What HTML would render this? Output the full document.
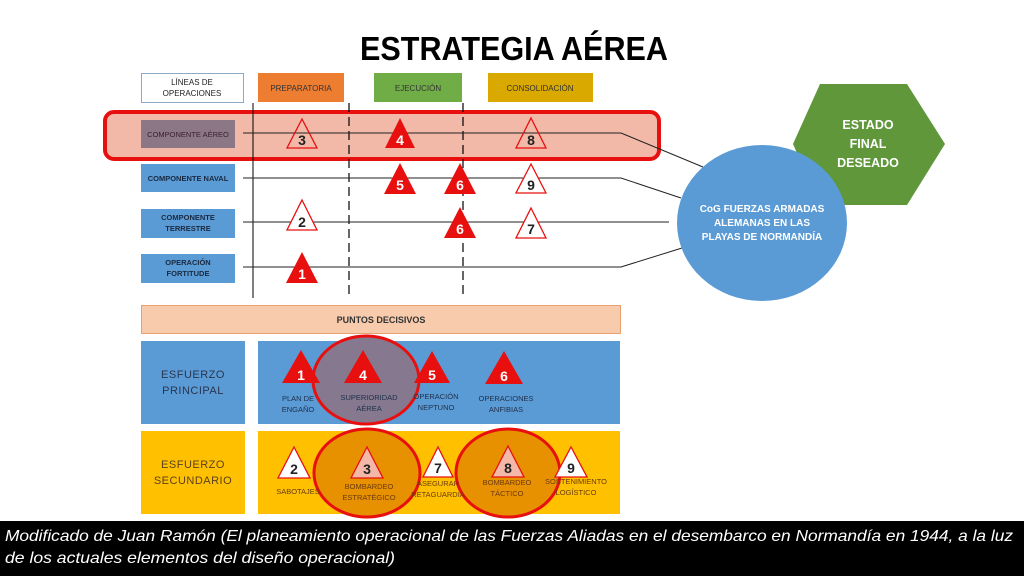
<!DOCTYPE html>
<html><head><meta charset="utf-8"><style>html,body{margin:0;padding:0;background:#fff;}svg{display:block}</style></head>
<body>
<svg width="1024" height="576" viewBox="0 0 1024 576" xmlns="http://www.w3.org/2000/svg" font-family="Liberation Sans, sans-serif">
<rect width="1024" height="576" fill="#fff"/>
<text x="360" y="60" font-size="33" font-weight="bold" textLength="308" lengthAdjust="spacingAndGlyphs">ESTRATEGIA AÉREA</text>

<!-- header boxes -->
<rect x="141.5" y="73.5" width="102" height="29" fill="#fff" stroke="#8fa9c8"/>
<text x="192" y="85" font-size="8" text-anchor="middle" fill="#222">LÍNEAS DE</text>
<text x="192" y="96" font-size="8" text-anchor="middle" fill="#222">OPERACIONES</text>
<rect x="258" y="73" width="86" height="29" fill="#ed7d31"/>
<text x="301" y="91" font-size="8" text-anchor="middle" fill="#333">PREPARATORIA</text>
<rect x="374" y="73" width="88" height="29" fill="#70ad47"/>
<text x="418" y="91" font-size="8" text-anchor="middle" fill="#333">EJECUCIÓN</text>
<rect x="488" y="73" width="105" height="29" fill="#d9a900"/>
<text x="540" y="91" font-size="8" text-anchor="middle" fill="#333">CONSOLIDACIÓN</text>

<!-- red band -->
<rect x="105" y="112" width="554" height="47" rx="9" fill="#f2b8a8" stroke="#e8100f" stroke-width="4"/>

<!-- vertical lines -->
<line x1="253" y1="103" x2="253" y2="298" stroke="#000" stroke-width="1"/>
<line x1="349" y1="103" x2="349" y2="298" stroke="#000" stroke-width="1.2" stroke-dasharray="9,5"/>
<line x1="463" y1="103" x2="463" y2="298" stroke="#000" stroke-width="1.2" stroke-dasharray="9,5"/>

<!-- row lines -->
<g stroke="#222" stroke-width="1" fill="none">
<polyline points="243,133 621,133 703,167"/>
<polyline points="243,178 621,178 681,198"/>
<polyline points="243,222 669,222"/>
<polyline points="243,267 621,267 682,248"/>
</g>

<!-- row boxes -->
<rect x="141" y="120" width="94" height="28" fill="#8b7785"/>
<text x="188" y="137" font-size="7.5" text-anchor="middle" fill="#3a2030">COMPONENTE AÉREO</text>
<rect x="141" y="164" width="94" height="28" fill="#5b9bd5"/>
<text x="188" y="181" font-size="7.5" font-weight="bold" text-anchor="middle" fill="#1a2a40">COMPONENTE NAVAL</text>
<rect x="141" y="209" width="94" height="29" fill="#5b9bd5"/>
<text x="188" y="220" font-size="7.5" font-weight="bold" text-anchor="middle" fill="#1a2a40">COMPONENTE</text>
<text x="188" y="231" font-size="7.5" font-weight="bold" text-anchor="middle" fill="#1a2a40">TERRESTRE</text>
<rect x="141" y="254" width="94" height="29" fill="#5b9bd5"/>
<text x="188" y="265" font-size="7.5" font-weight="bold" text-anchor="middle" fill="#1a2a40">OPERACIÓN</text>
<text x="188" y="276" font-size="7.5" font-weight="bold" text-anchor="middle" fill="#1a2a40">FORTITUDE</text>

<!-- top triangles -->
<g font-size="14" font-weight="bold" text-anchor="middle">
<polygon points="302,119 317,148 287,148" fill="none" stroke="#e8100f" stroke-width="1.3"/><text x="302" y="145" fill="#222">3</text>
<polygon points="400,118 415,148 385,148" fill="#e8100f"/><text x="400" y="145" fill="#fff">4</text>
<polygon points="531,118 546,148 516,148" fill="none" stroke="#e8100f" stroke-width="1.3"/><text x="531" y="145" fill="#222">8</text>
<polygon points="400,163 416,194 384,194" fill="#e8100f"/><text x="400" y="190" fill="#fff">5</text>
<polygon points="460,163 476,194 444,194" fill="#e8100f"/><text x="460" y="190" fill="#fff">6</text>
<polygon points="531,164 546,193 516,193" fill="#fff" stroke="#e8100f" stroke-width="1.3"/><text x="531" y="190" fill="#222">9</text>
<polygon points="302,200 317,230 287,230" fill="#fff" stroke="#e8100f" stroke-width="1.3"/><text x="302" y="227" fill="#222">2</text>
<polygon points="460,207 476,238 444,238" fill="#e8100f"/><text x="460" y="234" fill="#fff">6</text>
<polygon points="531,208 546,238 516,238" fill="#fff" stroke="#e8100f" stroke-width="1.3"/><text x="531" y="234" fill="#222">7</text>
<polygon points="302,252 318,283 286,283" fill="#e8100f"/><text x="302" y="279" fill="#fff">1</text>
</g>

<!-- hexagon & circle -->
<polygon points="793,144 820,84 907,84 945,144 907,205 820,205" fill="#5f973a"/>
<g font-size="12.5" font-weight="bold" fill="#fff" text-anchor="middle">
<text x="868" y="129">ESTADO</text><text x="868" y="148">FINAL</text><text x="868" y="167">DESEADO</text>
</g>
<ellipse cx="762" cy="223" rx="85" ry="78" fill="#5b9bd5"/>
<g font-size="10" font-weight="bold" fill="#fff" text-anchor="middle">
<text x="762" y="212">CoG FUERZAS ARMADAS</text>
<text x="762" y="226">ALEMANAS EN LAS</text>
<text x="762" y="240">PLAYAS DE NORMANDÍA</text>
</g>

<!-- puntos decisivos -->
<rect x="141.5" y="305.5" width="479" height="28" fill="#f8cbad" stroke="#e9a070"/>
<text x="381" y="323" font-size="9" font-weight="bold" text-anchor="middle" fill="#333">PUNTOS DECISIVOS</text>

<rect x="141" y="341" width="104" height="83" fill="#5b9bd5"/>
<text x="193" y="378" font-size="11" text-anchor="middle" fill="#2a3550" letter-spacing="0.5">ESFUERZO</text>
<text x="193" y="394" font-size="11" text-anchor="middle" fill="#2a3550" letter-spacing="0.5">PRINCIPAL</text>
<rect x="258" y="341" width="362" height="83" fill="#5b9bd5"/>

<rect x="141" y="431" width="104" height="83" fill="#ffc000"/>
<text x="193" y="468" font-size="11" text-anchor="middle" fill="#5a4020" letter-spacing="0.5">ESFUERZO</text>
<text x="193" y="484" font-size="11" text-anchor="middle" fill="#5a4020" letter-spacing="0.5">SECUNDARIO</text>
<rect x="258" y="431" width="362" height="83" fill="#ffc000"/>

<!-- ellipses -->
<ellipse cx="366" cy="380" rx="53" ry="44" fill="#85788f" stroke="#e8100f" stroke-width="3"/>
<ellipse cx="367" cy="473" rx="53" ry="44" fill="#e89100" stroke="#e8100f" stroke-width="3"/>
<ellipse cx="508" cy="473" rx="52" ry="44" fill="#e89100" stroke="#e8100f" stroke-width="3"/>

<g font-size="14" font-weight="bold" text-anchor="middle">
<polygon points="301,350 320,383 282,383" fill="#e8100f"/><text x="301" y="380" fill="#fff">1</text>
<polygon points="363,350 382,383 344,383" fill="#e8100f"/><text x="363" y="380" fill="#fff">4</text>
<polygon points="432,351 450,383 414,383" fill="#e8100f"/><text x="432" y="380" fill="#fff">5</text>
<polygon points="504,351 523,384 485,384" fill="#e8100f"/><text x="504" y="381" fill="#fff">6</text>
<polygon points="294,447 310,478 278,478" fill="#fff" stroke="#e8100f" stroke-width="1.3"/><text x="294" y="474" fill="#222">2</text>
<polygon points="367,447 383,478 351,478" fill="#f4b8a8" stroke="#e8100f" stroke-width="1.3"/><text x="367" y="474" fill="#222">3</text>
<polygon points="438,447 453,477 423,477" fill="#fff" stroke="#e8100f" stroke-width="1.3"/><text x="438" y="473" fill="#222">7</text>
<polygon points="508,446 524,477 492,477" fill="#f4b8a8" stroke="#e8100f" stroke-width="1.3"/><text x="508" y="473" fill="#222">8</text>
<polygon points="571,447 587,477 555,477" fill="#fff" stroke="#e8100f" stroke-width="1.3"/><text x="571" y="473" fill="#222">9</text>
</g>

<g font-size="7.5" text-anchor="middle" fill="#1f2f4a">
<text x="298" y="401">PLAN DE</text><text x="298" y="412">ENGAÑO</text>
<text x="369" y="400">SUPERIORIDAD</text><text x="369" y="411">AÉREA</text>
<text x="436" y="399">OPERACIÓN</text><text x="436" y="410">NEPTUNO</text>
<text x="506" y="401">OPERACIONES</text><text x="506" y="412">ANFIBIAS</text>
</g>
<g font-size="7.5" text-anchor="middle" fill="#6a3a10">
<text x="298" y="494">SABOTAJES</text>
<text x="369" y="489">BOMBARDEO</text><text x="369" y="500">ESTRATÉGICO</text>
<text x="438" y="486">ASEGURAR</text><text x="438" y="497">RETAGUARDIA</text>
<text x="507" y="485">BOMBARDEO</text><text x="507" y="496">TÁCTICO</text>
<text x="576" y="484">SOSTENIMIENTO</text><text x="576" y="495">LOGÍSTICO</text>
</g>

<!-- footer -->
<rect x="0" y="521" width="1024" height="55" fill="#000"/>
<g font-size="16" font-style="italic" fill="#fff">
<text x="5" y="541" textLength="1008" lengthAdjust="spacingAndGlyphs">Modificado de Juan Ramón (El planeamiento operacional de las Fuerzas Aliadas en el desembarco en Normandía en 1944, a la luz</text>
<text x="5" y="563" textLength="390" lengthAdjust="spacingAndGlyphs">de los actuales elementos del  diseño operacional)</text>
</g>
</svg>
</body></html>
